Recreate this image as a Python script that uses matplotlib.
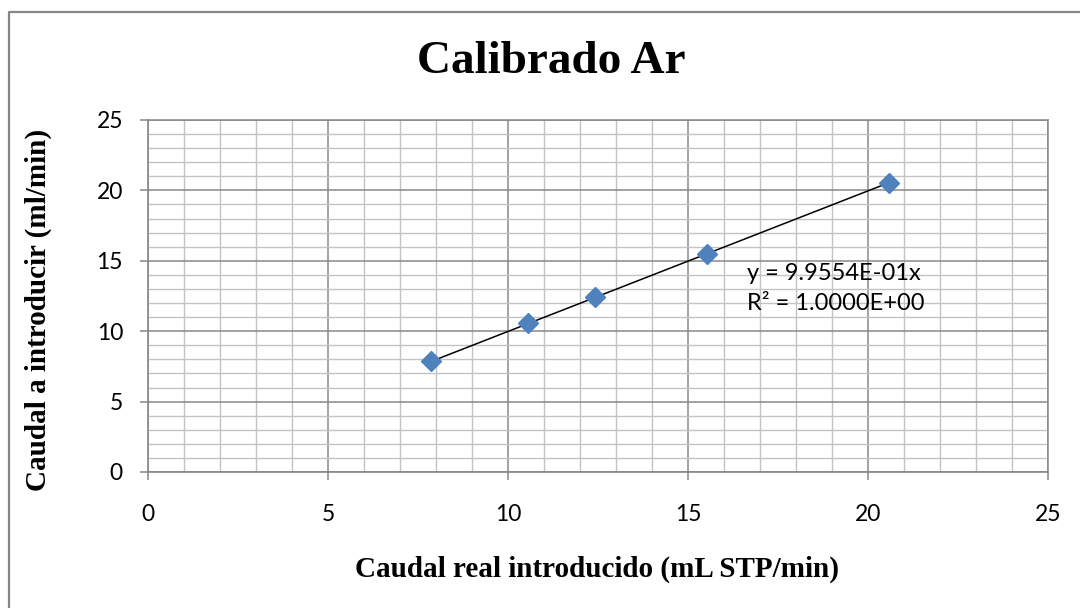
import matplotlib
matplotlib.use("Agg")
import matplotlib.pyplot as plt
from matplotlib.lines import Line2D
from matplotlib.ticker import MultipleLocator
import numpy as np

# Data
caudal_real = [7.87, 10.56, 12.41, 15.53, 20.57]
caudal_introducir = [7.88, 10.55, 12.40, 15.50, 20.52]
x_ticks = [0, 5, 10, 15, 20, 25]
y_ticks = [0, 5, 10, 15, 20, 25]
title = "Calibrado Ar"
xlabel = "Caudal real introducido (mL STP/min)"
ylabel = "Caudal a introducir (ml/min)"
eq_line1 = "y = 9.9554E-01x"
eq_line2 = "R² = 1.0000E+00"

W, H = 1080, 608
fig = plt.figure(figsize=(W / 100, H / 100), dpi=100)
fig.patch.set_facecolor("white")

ax = fig.add_axes([148 / W, 1 - 472 / H, (1048 - 148) / W, (472 - 120) / H])
ax.set_xlim(0, 25)
ax.set_ylim(0, 25)
ax.set_xticks(x_ticks)
ax.set_yticks(y_ticks)
ax.xaxis.set_minor_locator(MultipleLocator(1))
ax.yaxis.set_minor_locator(MultipleLocator(1))

ax.grid(which="major", color="#898989", linewidth=1.1, zorder=0)
ax.grid(which="minor", color="#c3c3c3", linewidth=1.0, zorder=0)
ax.set_axisbelow(True)

for s in ["left", "bottom"]:
    ax.spines[s].set_color("#868686")
    ax.spines[s].set_linewidth(1.2)
for s in ["top", "right"]:
    ax.spines[s].set_color("#898989")
    ax.spines[s].set_linewidth(1.1)

ax.tick_params(which="major", direction="out", length=6, width=1.1, color="#868686",
               labelsize=16.5)
ax.tick_params(axis="y", pad=12)
ax.tick_params(axis="x", pad=17)
ax.tick_params(which="minor", length=0)
for lab in ax.get_xticklabels() + ax.get_yticklabels():
    lab.set_fontfamily("Lato")

# trendline through origin
xa = np.array(caudal_real)
ya = np.array(caudal_introducir)
slope = np.sum(xa * ya) / np.sum(xa * xa)
xl = np.array([xa.min(), xa.max()])
ax.plot(xl, slope * xl, color="black", linewidth=1.1, zorder=3)

ax.plot(caudal_real, caudal_introducir, linestyle="none", marker="D", markersize=10,
        markerfacecolor="#4F81BD", markeredgecolor="#4F81BD", zorder=4)

ax.text(16.65, (472 - 273) / 14.08, eq_line1, fontsize=17, family="Lato",
        va="center", ha="left", zorder=5)
ax.text(16.65, (472 - 304) / 14.08, eq_line2, fontsize=17, family="Lato",
        va="center", ha="left", zorder=5)

fig.text(551 / W, 1 - 62 / H, title, fontsize=34, fontweight="bold",
         family="Liberation Serif", ha="center", va="center")
fig.text(597 / W, 1 - 569 / H, xlabel, fontsize=21, fontweight="bold",
         family="Liberation Serif", ha="center", va="center")
fig.text(38 / W, 1 - 310 / H, ylabel, fontsize=21, fontweight="bold",
         family="Liberation Serif", ha="center", va="center", rotation=90)

# outer chart border
fig.add_artist(Line2D([9 / W, 9 / W, 1.0], [0.0, 1 - 12 / H, 1 - 12 / H],
                      transform=fig.transFigure, color="#868686", linewidth=1.6))

fig.savefig("out.png", dpi=100)
